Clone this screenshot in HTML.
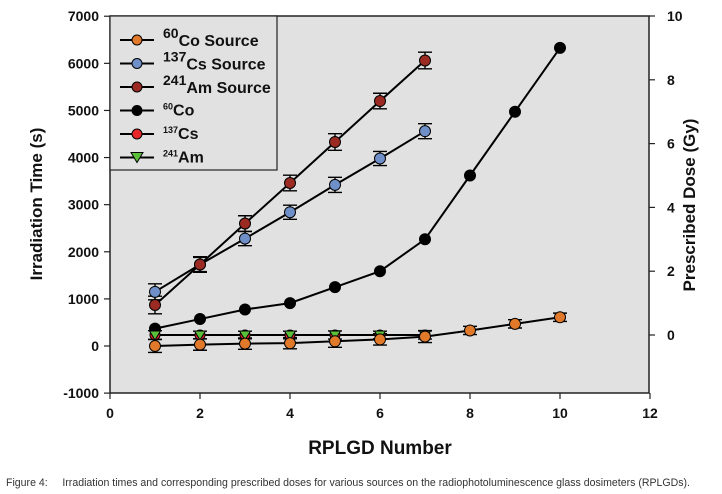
<!DOCTYPE html>
<html><head><meta charset="utf-8"><style>
html,body{margin:0;padding:0;background:#fff;}
svg{display:block;font-family:"Liberation Sans",Arial,sans-serif;}
</style></head><body>
<svg id="chart" width="722" height="494" viewBox="0 0 722 494">
<rect x="110" y="16" width="539" height="377" fill="#e1e1e1"/>
<g id="series"></g>
<rect x="110" y="16" width="539" height="377" fill="none" stroke="#222" stroke-width="1.5"/>
<g id="axes" font-weight="bold" font-size="14" fill="#111"></g>
<text x="42" y="204" transform="rotate(-90 42 204)" text-anchor="middle" font-weight="bold" font-size="17" fill="#111">Irradiation Time (s)</text>
<text x="695" y="205" transform="rotate(-90 695 205)" text-anchor="middle" font-weight="bold" font-size="17" fill="#111">Prescribed Dose (Gy)</text>
<text x="380" y="454" text-anchor="middle" font-weight="bold" font-size="19" fill="#111">RPLGD Number</text>
<text x="6" y="486" font-size="11" fill="#333" textLength="684" lengthAdjust="spacingAndGlyphs">Figure 4:&#160;&#160;&#160;&#160;&#160;Irradiation times and corresponding prescribed doses for various sources on the radiophotoluminescence glass dosimeters (RPLGDs).</text>
<g id="legend">
<rect x="110" y="16" width="167" height="154" fill="#e1e1e1" stroke="#222" stroke-width="1.2"/>
</g>
</svg>
<script>
const xs = [1,2,3,4,5,6,7,8,9,10];
const coSource = [0,30,50,60,100,140,200,330,470,610];
const csSource = [1150,1730,2280,2840,3420,3980,4560];
const amSource = [870,1730,2600,3460,4330,5200,6060];
const coDose = [0.2,0.5,0.8,1.0,1.5,2.0,3.0,5.0,7.0,9.0];
const csDose = [0,0,0,0,0,0,0];
const amDose = [0,0,0,0,0,0,0];
const xTicks = [0,2,4,6,8,10,12];
const yTicks = [-1000,0,1000,2000,3000,4000,5000,6000,7000];
const y2Ticks = [0,2,4,6,8,10];
const srcErr = [170,150,150,150,160,150,160,110,110,110];

const NS="http://www.w3.org/2000/svg";
const X=v=>110+v*45;
const Y=v=>346-v*0.04711;
const Y2=v=>335-v*31.9;
function mk(tag,attrs,parent){const e=document.createElementNS(NS,tag);for(const k in attrs)e.setAttribute(k,attrs[k]);parent.appendChild(e);return e;}
const axes=document.getElementById('axes'), ser=document.getElementById('series'), leg=document.getElementById('legend');

xTicks.forEach(t=>{
  let l=mk('line',{x1:X(t),x2:X(t),y1:393,y2:399,stroke:'#222','stroke-width':1.2},axes);
  
  
  let tx=mk('text',{x:X(t),y:418,'text-anchor':'middle'},axes);tx.textContent=t;
  
  
});
yTicks.forEach(t=>{
  let l=mk('line',{x1:104,x2:110,y1:Y(t),y2:Y(t),stroke:'#222','stroke-width':1.2},axes);
  
  
  let tx=mk('text',{x:99,y:Y(t)+5,'text-anchor':'end'},axes);tx.textContent=t;
  
  
});
y2Ticks.forEach(t=>{
  let l=mk('line',{x1:649,x2:655,y1:Y2(t),y2:Y2(t),stroke:'#222','stroke-width':1.2},axes);
  
  
  let tx=mk('text',{x:667,y:Y2(t)+5,'text-anchor':'start'},axes);tx.textContent=t;
  
  
});

function line(vals,yf,name){
  const pts=vals.map((v,i)=>X(xs[i])+','+yf(v)).join(' ');
  const p=mk('polyline',{points:pts,fill:'none',stroke:'#000','stroke-width':2},ser);
  
  
}
function errs(vals,yf,name,scale){
  vals.forEach((v,i)=>{
    const e=srcErr[i]*scale,cx=X(xs[i]);
    const g=mk('path',{d:`M${cx},${yf(v+e)}V${yf(v-e)}M${cx-7},${yf(v+e)}h14M${cx-7},${yf(v-e)}h14`,stroke:'#000','stroke-width':1.4,fill:'none'},ser);
    
    
  });
}
function dots(vals,yf,color,name,tri,r){
  vals.forEach((v,i)=>{
    const cx=X(xs[i]),cy=yf(v);let m;
    if(tri) m=mk('path',{d:`M${cx-5.5},${cy-4}h11l-5.5,9z`,fill:color,stroke:'#000','stroke-width':1},ser);
    else m=mk('circle',{cx:cx,cy:cy,r:r||5.5,fill:color,stroke:'#000','stroke-width':1},ser);
    
    
  });
}
line(coSource,Y,'co-source');line(csSource,Y,'cs-source');line(amSource,Y,'am-source');
line(coDose,Y2,'co-dose');line(csDose,Y2,'cs-dose');line(amDose,Y2,'am-dose');
errs(coSource,Y,'co-source',0.8);errs(csSource,Y,'cs-source',1);errs(amSource,Y,'am-source',1.1);
errs(csDose,Y2,'cs-dose',0.0008);
dots(coDose,Y2,'#000','co-dose');
dots(csDose,Y2,'#e8262a','cs-dose',false,5);
dots(amDose,Y2,'#5cbf3a','am-dose',true);
dots(coSource,Y,'#e07a2a','co-source');
dots(csSource,Y,'#6f8fc9','cs-source');
dots(amSource,Y,'#9a2a22','am-source');

const legItems=[['60','Co Source','#e07a2a',true,false],['137','Cs Source','#6f8fc9',true,false],['241','Am Source','#9a2a22',true,false],['60','Co','#000',false,false],['137','Cs','#e8262a',false,false],['241','Am','#5cbf3a',false,true]];
legItems.forEach((it,i)=>{
  const y=40+i*23.5;
  const g=mk('g',{},leg);
  
  
  mk('line',{x1:120,x2:154,y1:y,y2:y,stroke:'#000','stroke-width':2},g);
  if(it[4]) mk('path',{d:`M131,${y-5}h12l-6,10z`,fill:it[2],stroke:'#000'},g);
  else mk('circle',{cx:137,cy:y,r:5,fill:it[2],stroke:'#000'},g);
  const t=mk('text',{x:163,y:y+(it[3]?6:5),'font-weight':'bold','font-size':16,fill:'#111'},g);
  const s=mk('tspan',{'font-size':it[3]?14:9,dy:it[3]?-8:-6},t);s.textContent=it[0];
  const r=mk('tspan',{dy:it[3]?8:6},t);r.textContent=it[1];
});
</script>
</body></html>
